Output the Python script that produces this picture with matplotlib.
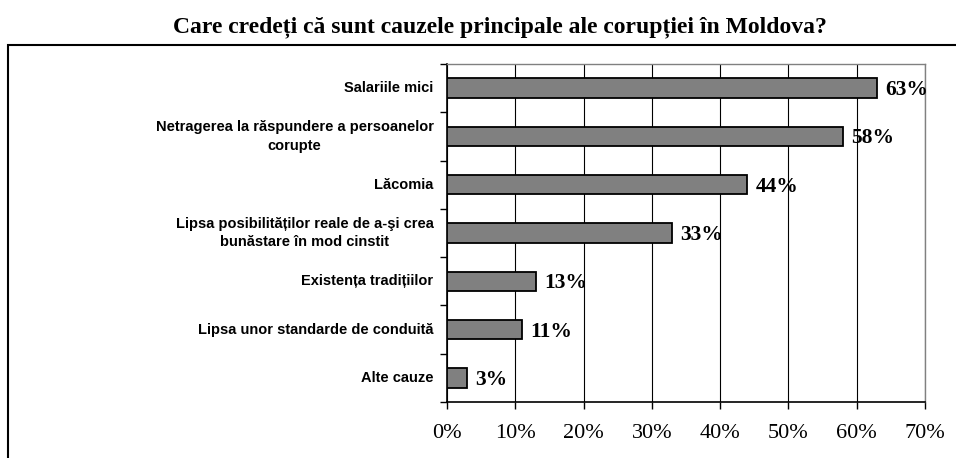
import matplotlib.pyplot as plt
from matplotlib.patches import Rectangle
from matplotlib.ticker import FixedLocator, FuncFormatter

title = 'Care credeți că sunt cauzele principale ale corupției în Moldova?'
categories = [
    'Salariile mici',
    'Netragerea la răspundere a persoanelor\ncorupte',
    'Lăcomia',
    'Lipsa posibilităților reale de a-şi crea\nbunăstare în mod cinstit',
    'Existența tradițiilor',
    'Lipsa unor standarde de conduită',
    'Alte cauze',
]
values = [63, 58, 44, 33, 13, 11, 3]
xticks = [0, 10, 20, 30, 40, 50, 60, 70]

fig = plt.figure(figsize=(9.56, 4.58), dpi=100)
ax = fig.add_axes([447 / 956, 1 - 402 / 458, 478 / 956, 338 / 458])

ypos = list(range(len(categories)))
ax.barh(ypos, values, height=0.4, color='#808080', edgecolor='black', linewidth=1.3, zorder=3)

ax.set_xlim(0, 70)
ax.set_ylim(len(categories) - 0.5, -0.5)

ax.xaxis.set_major_locator(FixedLocator(xticks))
ax.xaxis.set_major_formatter(FuncFormatter(lambda v, p: '%d%%' % v))
ax.grid(axis='x', color='black', linewidth=0.8, zorder=0)

# category ticks sit on the boundaries, labels drawn as text
ax.set_yticks([y - 0.5 for y in ypos] + [len(categories) - 0.5])
ax.set_yticklabels([])
ax.tick_params(axis='y', direction='out', length=5, width=1)
ax.tick_params(axis='x', direction='out', length=5, width=1, pad=11, labelsize=16)
for lbl in ax.get_xticklabels():
    lbl.set_fontfamily('Liberation Serif')

for y, cat in zip(ypos, categories):
    ax.text(-0.028, y, cat, transform=ax.get_yaxis_transform(), ha='right', va='center',
            multialignment='center', fontsize=10.5, fontweight='bold',
            fontfamily='Liberation Sans', linespacing=1.4)

for y, v in zip(ypos, values):
    ax.annotate('%d%%' % v, (v, y), xytext=(8, -2), textcoords='offset pixels',
                ha='left', va='center', fontsize=15.5, fontweight='bold',
                fontfamily='Liberation Serif')

for s in ('top', 'right'):
    ax.spines[s].set_color('#808080')
    ax.spines[s].set_linewidth(1)
ax.spines['left'].set_linewidth(1.2)
ax.spines['bottom'].set_linewidth(1.2)

fig.text(0.523, 1 - 32 / 458, title, ha='center', va='baseline', fontsize=17,
         fontweight='bold', fontfamily='Liberation Serif')

# outer frame, open at the right and bottom
fig.patches.append(Rectangle((8 / 956, -0.1), 1.1, 1 - 45 / 458 + 0.1, transform=fig.transFigure,
                             fill=False, edgecolor='black', linewidth=1.5))

fig.savefig('out.png', dpi=100)
